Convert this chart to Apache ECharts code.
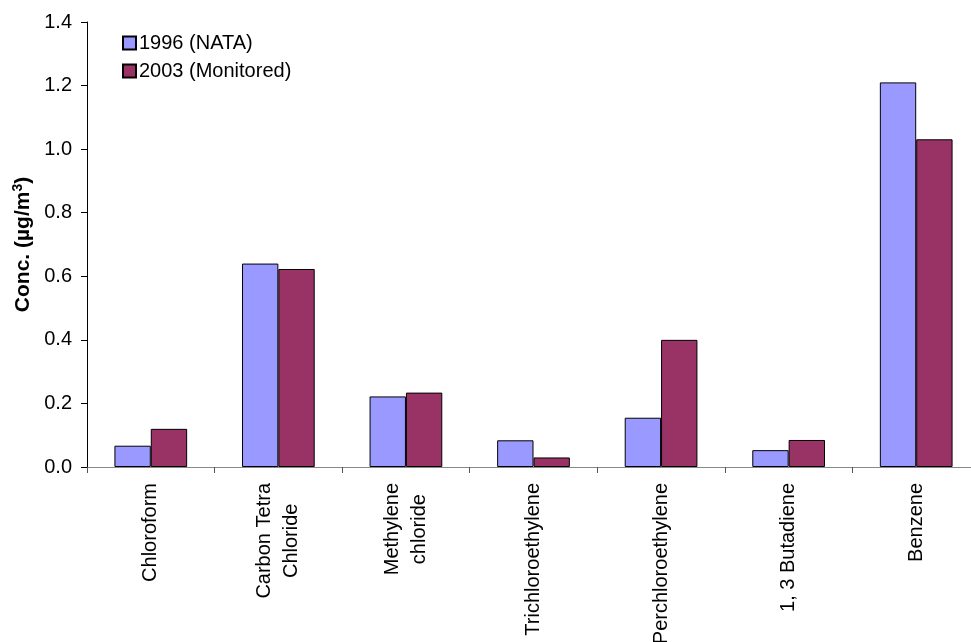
<!DOCTYPE html>
<html>
<head>
<meta charset="utf-8">
<script src="https://cdn.jsdelivr.net/npm/echarts@6/dist/echarts.min.js"></script>
<style>
  html, body { margin: 0; padding: 0; background: #fff; overflow: hidden; }
  #chart { width: 971px; height: 642px; }
</style>
</head>
<body>
<div id="chart"></div>
<script>
// pollutants along the x axis
var categories = ['Chloroform', 'Carbon Tetra\nChloride', 'Methylene\nchloride', 'Trichloroethylene',
  'Perchloroethylene', '1, 3 Butadiene', 'Benzene'];
var nata1996 = [0.067, 0.640, 0.222, 0.084, 0.155, 0.053, 1.210];
var monitored2003 = [0.120, 0.623, 0.234, 0.030, 0.400, 0.085, 1.031];
var yTicks = [0, 0.2, 0.4, 0.6, 0.8, 1.0, 1.2, 1.4];

var font = 'Liberation Sans, Arial, sans-serif';
var myChart = echarts.init(document.getElementById('chart'));

var option = {
  animation: false,
  backgroundColor: '#fff',
  textStyle: { fontFamily: font },
  legend: {
    orient: 'vertical',
    left: 122,
    top: 33,
    padding: 0,
    itemWidth: 13,
    itemHeight: 13,
    itemGap: 8,
    icon: 'rect',
    data: ['1996 (NATA)', '2003 (Monitored)'],
    textStyle: { fontSize: 20, color: '#000', fontFamily: font, lineHeight: 20, padding: [0, 0, 0, -2] }
  },
  // plot area runs a little past the right edge of the window, as in the original
  grid: { left: 87, width: 893, top: 22, bottom: 175, outerBoundsMode: 'none' },
  xAxis: {
    type: 'category',
    data: categories,
    axisLine: { lineStyle: { color: '#888', width: 1 } },
    axisTick: { show: true, length: 6, lineStyle: { color: '#555' } },
    axisLabel: {
      rotate: 90,
      interval: 0,
      margin: 16,
      color: '#000',
      fontSize: 20,
      fontFamily: font,
      formatter: function (v) {
        return v.split('\n').map(function (s) { return '{c|' + s + '}'; }).join('\n');
      },
      rich: { c: { align: 'center', fontSize: 20, fontFamily: font, color: '#000', lineHeight: 27 } }
    }
  },
  yAxis: {
    type: 'value',
    min: 0,
    max: yTicks[yTicks.length - 1],
    interval: 0.2,
    name: '{b|Conc. (µg/m}{s|3}{b|)}',
    nameLocation: 'middle',
    nameGap: 46,
    nameTextStyle: {
      fontSize: 21, fontWeight: 'bold', color: '#000', fontFamily: font,
      rich: {
        b: { fontSize: 21, fontWeight: 'bold', fontFamily: font, color: '#000', lineHeight: 24 },
        s: { fontSize: 14, fontWeight: 'bold', fontFamily: font, color: '#000', verticalAlign: 'top', lineHeight: 24, padding: [0, 0, 8, 0] }
      }
    },
    axisLine: { show: true, lineStyle: { color: '#000', width: 1 } },
    axisTick: { show: true, length: 6, lineStyle: { color: '#000' } },
    splitLine: { show: false },
    axisLabel: {
      color: '#000',
      fontSize: 20,
      fontFamily: font,
      margin: 15,
      formatter: function (v) { return v.toFixed(1); }
    }
  },
  series: [
    {
      name: '1996 (NATA)',
      type: 'bar',
      data: nata1996,
      barGap: '0%',
      barCategoryGap: '43%',
      itemStyle: { color: '#9999FF', borderColor: '#000', borderWidth: 1 }
    },
    {
      name: '2003 (Monitored)',
      type: 'bar',
      data: monitored2003,
      itemStyle: { color: '#993366', borderColor: '#000', borderWidth: 1 }
    }
  ]
};

myChart.setOption(option);
</script>
</body>
</html>
